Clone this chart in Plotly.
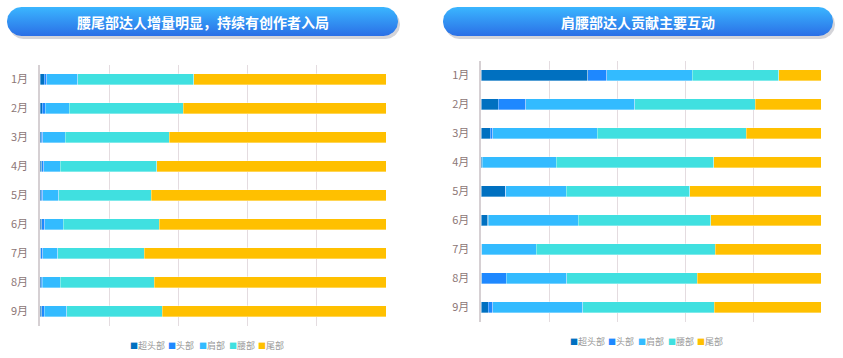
import numpy as np
import plotly.graph_objects as go

W, H = 843, 358
FONT = "Noto Sans CJK SC"

months = ["1月", "2月", "3月", "4月", "5月", "6月", "7月", "8月", "9月"]
series_names = ["超头部", "头部", "肩部", "腰部", "尾部"]
series_colors = ["#0070c0", "#1e88ff", "#33bbff", "#40e0e0", "#ffc000"]

left_title = "腰尾部达人增量明显，持续有创作者入局"
right_title = "肩腰部达人贡献主要互动"

left_super = [1.2, 0.7, 0.4, 0.5, 0.3, 0.5, 0.2, 0.3, 0.5]
left_head = [0.8, 0.8, 0.4, 0.6, 0.5, 0.8, 0.6, 0.4, 0.7]
left_shoulder = [8.9, 6.9, 6.5, 4.8, 4.6, 5.4, 4.3, 5.2, 6.5]
left_waist = [33.5, 33.0, 30.0, 27.8, 26.8, 27.7, 25.0, 27.1, 27.7]
left_tail = [55.6, 58.6, 62.7, 66.3, 67.8, 65.6, 69.9, 67.0, 64.6]

right_super = [31.4, 5.0, 2.6, 0.3, 7.0, 1.9, 0.2, 0.2, 2.1]
right_head = [5.5, 8.1, 0.7, 0.0, 0.2, 0.1, 0.0, 7.1, 1.2]
right_shoulder = [25.2, 32.1, 30.8, 21.8, 17.8, 26.6, 16.0, 17.9, 26.5]
right_waist = [25.5, 35.4, 43.9, 46.4, 36.3, 39.0, 52.6, 38.4, 38.8]
right_tail = [12.4, 19.4, 22.0, 31.5, 38.7, 32.4, 31.2, 36.4, 31.4]

left_series = [left_super, left_head, left_shoulder, left_waist, left_tail]
right_series = [right_super, right_head, right_shoulder, right_waist, right_tail]

fig = go.Figure()

# ---- bars ----
for xa, ya, data in (("x", "y", left_series), ("x2", "y2", right_series)):
    for name, color, vals in zip(series_names, series_colors, data):
        fig.add_trace(go.Bar(
            y=months, x=vals, name=name, orientation="h",
            marker=dict(color=color, line=dict(color="rgba(255,255,255,0.55)", width=0.6)),
            xaxis=xa, yaxis=ya, showlegend=False,
        ))

# ---- title pills (overlay pixel axis) ----
def pill(x0, y0, x1, y1, n=40):
    r = (y1 - y0) / 2
    cy = (y0 + y1) / 2
    a1 = np.linspace(np.pi / 2, 3 * np.pi / 2, n)
    a2 = np.linspace(-np.pi / 2, np.pi / 2, n)
    xs = np.concatenate([x0 + r + r * np.cos(a1), x1 - r + r * np.cos(a2)])
    ys = np.concatenate([cy + r * np.sin(a1), cy + r * np.sin(a2)])
    xs = np.append(xs, xs[0]); ys = np.append(ys, ys[0])
    return xs, H - ys

pills = [(7, 7, 398, 36, left_title, 203), (443, 7, 833, 36, right_title, 638)]
for x0, y0, x1, y1, txt, cx in pills:
    sx, sy = pill(x0 + 2, y0 + 3, x1 + 2, y1 + 3)
    fig.add_trace(go.Scatter(x=sx, y=sy, mode="lines", fill="toself",
                             fillcolor="rgba(60,60,80,0.22)", line=dict(width=0),
                             xaxis="x3", yaxis="y3", showlegend=False, hoverinfo="skip"))
    px, py = pill(x0, y0, x1, y1)
    fig.add_trace(go.Scatter(x=px, y=py, mode="lines", fill="toself",
                             fillgradient=dict(type="vertical", start=H - y1, stop=H - y0,
                                               colorscale=[[0, "#2b6fe6"], [1, "#3ab6ff"]]),
                             line=dict(width=0),
                             xaxis="x3", yaxis="y3", showlegend=False, hoverinfo="skip"))
    fig.add_annotation(x=cx, y=H - (y0 + y1) / 2 - 0.5, xref="x3", yref="y3", text=f"<b>{txt}</b>",
                       showarrow=False, font=dict(family=FONT, size=14, color="white"))

# ---- legends (annotations) ----
for y_pos, xs in ((345, [128, 166, 197, 227, 256]), (341, [568, 606, 636, 666, 695])):
    for name, color, xp in zip(series_names, series_colors, xs):
        fig.add_annotation(x=xp, y=H - y_pos, xref="x3", yref="y3", xanchor="left",
                           text=f"<span style='color:{color};font-size:8px'>■</span>{name}",
                           showarrow=False, font=dict(family=FONT, size=9, color="#999999"))

grid = "#e4dce0"
common_x = dict(range=[0, 100], showticklabels=False, showgrid=True, gridcolor=grid, gridwidth=1,
                dtick=20, zeroline=False, fixedrange=True, showline=False)
common_y = dict(autorange="reversed", type="category", showgrid=False, zeroline=False,
                showline=True, linecolor="#d6d0d3", linewidth=1.5, ticks="",
                ticklabelstandoff=8,
                tickfont=dict(family=FONT, size=11, color="#8c7676"), fixedrange=True)

fig.update_layout(
    width=W, height=H, margin=dict(l=0, r=0, t=0, b=0),
    paper_bgcolor="white", plot_bgcolor="rgba(0,0,0,0)",
    barmode="stack", barnorm="percent", bargap=0.62,
    showlegend=False,
    xaxis=dict(domain=[40 / W, 386 / W], anchor="y", **common_x),
    yaxis=dict(domain=[1 - 325.8 / H, 1 - 65 / H], anchor="x", **common_y),
    xaxis2=dict(domain=[481.3 / W, 821 / W], anchor="y2", **common_x),
    yaxis2=dict(domain=[1 - 321.5 / H, 1 - 61 / H], anchor="x2", **common_y),
    xaxis3=dict(domain=[0, 1], range=[0, W], visible=False, anchor="y3", fixedrange=True),
    yaxis3=dict(domain=[0, 1], range=[0, H], visible=False, anchor="x3", fixedrange=True),
    font=dict(family=FONT),
)

fig.write_html("out.html")
